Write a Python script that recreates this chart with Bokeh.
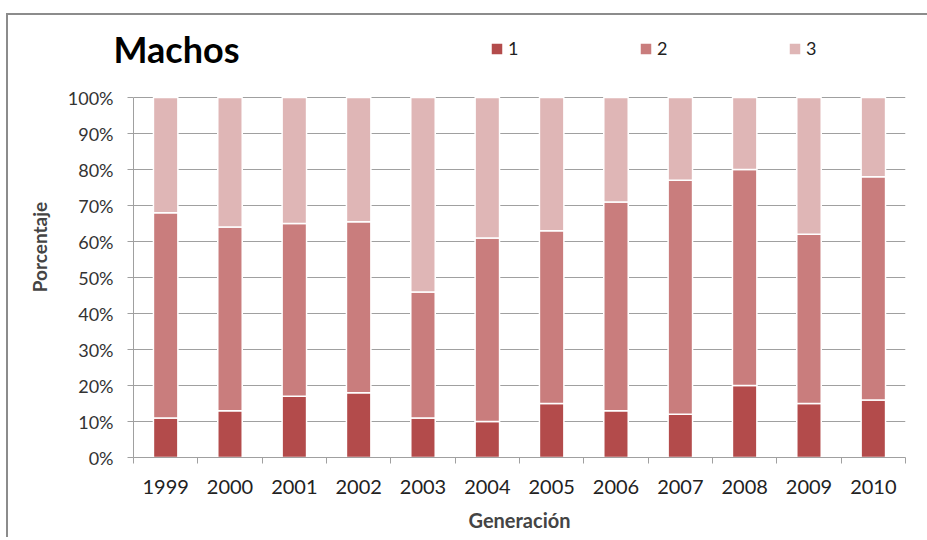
from bokeh.plotting import figure
from bokeh.models import (Range1d, FixedTicker, PrintfTickFormatter, Legend, LegendItem,
                          ColumnDataSource)
from bokeh.embed import file_html
from bokeh.resources import INLINE

years = ["1999", "2000", "2001", "2002", "2003", "2004", "2005", "2006", "2007", "2008", "2009", "2010"]
serie_1 = [11, 13, 17, 18, 11, 10, 15, 13, 12, 20, 15, 16]
serie_2 = [57, 51, 48, 47.5, 35, 51, 48, 58, 65, 60, 47, 62]
serie_3 = [32, 36, 35, 34.5, 54, 39, 37, 29, 23, 20, 38, 22]
y_ticks = [0, 10, 20, 30, 40, 50, 60, 70, 80, 90, 100]

colors = ["#B34B4B", "#C97D7D", "#DFB6B6"]
FONT = "Lato"

xs = list(range(len(years)))
src = ColumnDataSource(dict(x=xs, s1=serie_1, s2=serie_2, s3=serie_3))

# frame spans from y=36 to y=457 on the page; 100% sits at y=97 (3.6 px per %)
p = figure(width=921, height=524, output_backend="svg", toolbar_location=None,
           x_range=Range1d(-0.5, len(years) - 0.5), y_range=Range1d(0, 421 / 3.6),
           min_border_left=127, min_border_right=22, min_border_top=23, min_border_bottom=80,
           title="Machos")
p.margin = (13, 0, 0, 6)
p.styles = {"box-shadow": "inset 2px 2px 0 0 #8c8c8c"}
p.outline_line_color = None
p.background_fill_color = "white"
p.border_fill_alpha = 0

p.title.align = "left"
p.title.offset = -20
p.title.standoff = -68
p.title.text_font = FONT
p.title.text_font_style = "bold"
p.title.text_font_size = "36px"
p.title.text_color = "black"

rs = p.vbar_stack(["s1", "s2", "s3"], x="x", width=0.38, color=colors,
                  line_color="white", line_width=1.5, source=src)

# axes
p.xaxis.ticker = FixedTicker(ticks=xs, minor_ticks=[i - 0.5 for i in range(len(years) + 1)])
p.xaxis.major_label_overrides = {i: y for i, y in enumerate(years)}
p.xaxis.major_tick_line_color = None
p.xaxis.minor_tick_line_color = "#A0A0A0"
p.xaxis.minor_tick_out = 6
p.xaxis.minor_tick_in = 0
p.xaxis.axis_line_color = "#A0A0A0"
p.xaxis.major_label_text_font = FONT
p.xaxis.major_label_text_font_size = "20px"
p.xaxis.major_label_text_color = "#222222"
p.xaxis.major_label_standoff = 16
p.xaxis.axis_label = "Generación"
p.xaxis.axis_label_text_font = FONT
p.xaxis.axis_label_text_font_style = "bold"
p.xaxis.axis_label_text_font_size = "20px"
p.xaxis.axis_label_standoff = 11

p.yaxis.ticker = FixedTicker(ticks=y_ticks)
p.yaxis.bounds = (0, 100)
p.yaxis.formatter = PrintfTickFormatter(format="%d%%")
p.yaxis.minor_tick_line_color = None
p.yaxis.major_tick_out = 6
p.yaxis.major_tick_in = 0
p.yaxis.major_tick_line_color = "#A0A0A0"
p.yaxis.axis_line_color = "#A0A0A0"
p.yaxis.major_label_text_font = FONT
p.yaxis.major_label_text_font_size = "18px"
p.yaxis.major_label_text_color = "#333333"
p.yaxis.major_label_standoff = 14
p.yaxis.axis_label = "Porcentaje"
p.yaxis.axis_label_text_font = FONT
p.yaxis.axis_label_text_font_style = "bold"
p.yaxis.axis_label_text_font_size = "19px"
p.yaxis.axis_label_standoff = 14

p.xgrid.grid_line_color = None
p.ygrid.grid_line_color = "#A0A0A0"
p.ygrid.ticker = FixedTicker(ticks=y_ticks)

legend = Legend(items=[LegendItem(label=l, renderers=[r]) for l, r in zip(["1", "2", "3"], rs)],
                orientation="horizontal", location=(356, 398),
                glyph_width=15, glyph_height=15, label_standoff=4, spacing=110,
                padding=0, margin=0, border_line_color=None, background_fill_alpha=0,
                label_text_font=FONT, label_text_font_size="18px", label_text_color="#222222")
p.add_layout(legend, "center")

open("out.html", "w").write(file_html(p, INLINE))
